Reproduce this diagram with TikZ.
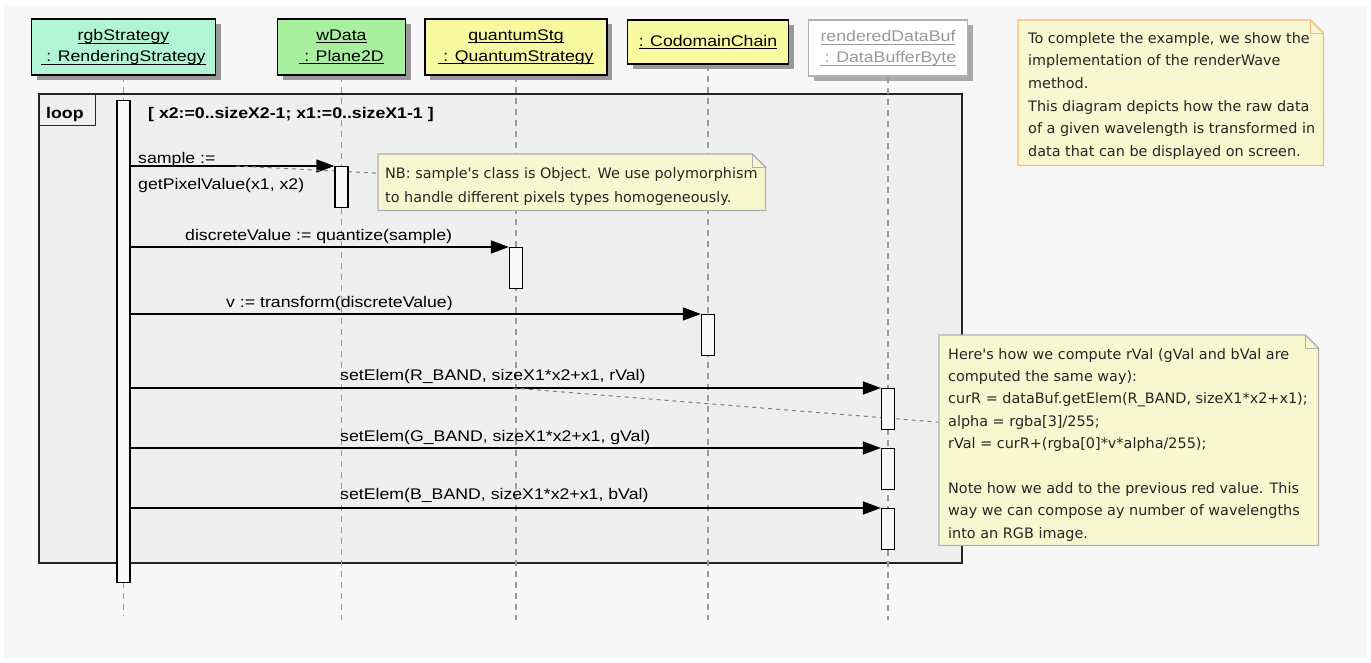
\documentclass[tikz,border=0pt]{standalone}
\usepackage{fontspec}
\setmainfont{Liberation Sans}
\newfontfamily\umlfont[FakeStretch=1.15]{Liberation Sans}
\newfontfamily\notefont{DejaVu Sans}
\usetikzlibrary{arrows.meta,calc}
\definecolor{bgc}{HTML}{F7F7F7}
\definecolor{loopc}{HTML}{EFEFEF}
\definecolor{mint}{HTML}{B2F5D5}
\definecolor{lgreen}{HTML}{A8F0A0}
\definecolor{lyellow}{HTML}{F8F8A0}
\definecolor{notec}{HTML}{F8F8D0}
\definecolor{noteorange}{HTML}{F8B878}
\definecolor{notegray}{HTML}{B0B0B0}
\definecolor{shadowc}{HTML}{999999}
\definecolor{lightshadow}{HTML}{AAAAAA}
\definecolor{lifec}{HTML}{9A9A9A}
\definecolor{greytext}{HTML}{999999}
\definecolor{actfill}{HTML}{F8F8F8}
\newcommand\myul[1]{\setbox0\hbox{#1}\rlap{\rule[-3pt]{\wd0}{0.9pt}}\box0}
\newcommand\notefold[2]{%
  \filldraw[fill=notec, draw=#2, line width=1.3pt] (#1.north west) -- ([xshift=-13pt]#1.north east) -- ([yshift=-13pt]#1.north east) -- (#1.south east) -- (#1.south west) -- cycle;
  \draw[draw=#2, line width=1pt] ([xshift=-13pt]#1.north east) |- ([yshift=-13pt]#1.north east);}
\tikzset{
  umltxt/.style={font=\umlfont\fontsize{15.4}{21}\selectfont, text=black},
  hdrbox/.style={draw=black, line width=1.6pt, inner sep=0pt, align=center, umltxt,
    preaction={fill=shadowc, transform canvas={xshift=5pt,yshift=-5pt}}},
  actbox/.style={draw=black, line width=1.3pt, fill=actfill, minimum width=13pt, inner sep=0pt, anchor=north},
  msg/.style={draw=black, line width=1.6pt, -{Triangle[length=18pt,width=13pt]}},
  lifeline/.style={draw=lifec, line width=1.3pt, dash pattern=on 6pt off 5pt},
  notelink/.style={draw=gray, line width=1pt, dash pattern=on 4pt off 4pt},
  noteshape/.style={anchor=north west, inner sep=0pt},
  notetxt/.style={font=\notefont\fontsize{14.4}{22.4}\selectfont, text=black!85, align=left, anchor=north west, inner sep=0pt},
  msglbl/.style={umltxt, anchor=base west, inner sep=0pt},
}
\begin{document}
\begin{tikzpicture}[x=1pt,y=-1pt]
\useasboundingbox (0,0) rectangle (1371,662);
\fill[white] (0,0) rectangle (1371,662);
\fill[bgc] (4,5) rectangle (1367,658);

% loop fragment
\node[draw=black!85, line width=1.6pt, fill=loopc, anchor=north west, minimum width=923pt, minimum height=469pt, inner sep=0pt] (loop) at (38,93) {};
\node[draw=black!85, line width=1.4pt, anchor=north west, minimum width=57pt, minimum height=32pt, inner sep=0pt] (looptab) at (loop.north west) {};
\node[anchor=base west, inner sep=0pt, font=\umlfont\bfseries\fontsize{15.4}{18}\selectfont] (looplbl) at (46,118) {loop};
\node[anchor=base west, inner sep=0pt, font=\umlfont\bfseries\fontsize{15.4}{18}\selectfont] (guard) at (148,118) {[ x2:=0..sizeX2-1; x1:=0..sizeX1-1 ]};

% headers
\node[hdrbox, fill=mint, minimum width=184pt, minimum height=56pt] (rgb) at (123.5,47) {\myul{rgbStrategy}\\\myul{\ : RenderingStrategy}};
\node[hdrbox, fill=lgreen, minimum width=128pt, minimum height=56pt] (wd) at (341.5,47) {\myul{wData}\\\myul{\ : Plane2D}};
\node[hdrbox, fill=lyellow, minimum width=182pt, minimum height=56pt] (qs) at (516,47) {\myul{quantumStg}\\\myul{\ : QuantumStrategy}};
\node[hdrbox, fill=lyellow, minimum width=161pt, minimum height=44pt] (cc) at (708,42) {\myul{: CodomainChain}};
\node[hdrbox, draw=notegray, text=greytext, fill=white, minimum width=159pt, minimum height=56pt,
  preaction={fill=lightshadow, transform canvas={xshift=5pt,yshift=-5pt}}] (buf) at (888,48) {\myul{renderedDataBuf}\\\myul{\ : DataBufferByte}};

% lifelines
\coordinate (rgbend) at (123.5,615);
\coordinate (wdend) at (341.5,620);
\coordinate (qsend) at (516,620);
\coordinate (ccend) at (708,620);
\coordinate (bufend) at (888,620);
\draw[lifeline] (rgb.south) -- (rgbend);
\draw[lifeline] (wd.south) -- (wdend);
\draw[lifeline] (qs.south) -- (qsend);
\draw[lifeline] (cc.south) -- (ccend);
\draw[lifeline] (buf.south) -- (bufend);

% activations
\node[actbox, minimum height=482pt] (A0) at (123.5,100) {};
\path (341.5,166) node[actbox, minimum height=41pt] (A1) {};
\path (516,247) node[actbox, minimum height=41pt] (A2) {};
\path (708,314) node[actbox, minimum height=41pt] (A3) {};
\path (888,388) node[actbox, minimum height=41pt] (A4) {};
\path (888,448) node[actbox, minimum height=41pt] (A5) {};
\path (888,508) node[actbox, minimum height=41pt] (A6) {};

% messages
\draw[msg] (A0.east |- A1.north) -- (A1.north west);
\draw[msg] (A0.east |- A2.north) -- (A2.north west);
\draw[msg] (A0.east |- A3.north) -- (A3.north west);
\draw[msg] (A0.east |- A4.north) -- (A4.north west);
\draw[msg] (A0.east |- A5.north) -- (A5.north west);
\draw[msg] (A0.east |- A6.north) -- (A6.north west);

\node[msglbl] (m1a) at (138,163) {sample :=};
\node[msglbl] (m1b) at (138,189) {getPixelValue(x1, x2)};
\node[msglbl] (m2) at (185,240) {discreteValue := quantize(sample)};
\node[msglbl] (m3) at (226,307) {v := transform(discreteValue)};
\node[msglbl] (m4) at (340,380) {setElem(R\_BAND, sizeX1*x2+x1, rVal)};
\node[msglbl] (m5) at (340,441) {setElem(G\_BAND, sizeX1*x2+x1, gVal)};
\node[msglbl] (m6) at (340,499) {setElem(B\_BAND, sizeX1*x2+x1, bVal)};

% notes (shapes)
\node[noteshape, minimum width=387pt, minimum height=56pt] (nb) at (378,154) {};
\node[noteshape, minimum width=305pt, minimum height=145pt] (n1) at (1018,20) {};
\node[noteshape, minimum width=379pt, minimum height=210pt] (n2) at (939,335) {};

% note connectors
\coordinate (nbanchor) at (236,166);
\coordinate (n2anchor) at (513,388);
\draw[notelink] (nbanchor) -- ([yshift=9pt]nb.west);
\draw[notelink] (n2anchor) -- ([yshift=18pt]n2.west);

% activations redrawn over the connectors
\node[actbox, minimum height=41pt] at (A1.north) {};
\node[actbox, minimum height=41pt] at (A4.north) {};

\notefold{nb}{notegray}
\notefold{n1}{noteorange}
\notefold{n2}{notegray}

\node[notetxt, font=\notefont\fontsize{14.4}{24}\selectfont] (nbtext) at (385,167) {NB: sample's class is Object. We use polymorphism\\to handle different pixels types homogeneously.};
\node[notetxt, font=\notefont\fontsize{14.4}{22.7}\selectfont] (n1text) at (1028,32) {To complete the example, we show the\\implementation of the renderWave\\method.\\This diagram depicts how the raw data\\of a given wavelength is transformed in\\data that can be displayed on screen.};
\node[notetxt] (n2text) at (948,348) {Here's how we compute rVal (gVal and bVal are\\computed the same way):\\curR = dataBuf.getElem(R\_BAND, sizeX1*x2+x1);\\alpha = rgba[3]/255;\\rVal = curR+(rgba[0]*v*alpha/255);\\[22.4pt]Note how we add to the previous red value. This\\way we can compose ay number of wavelengths\\into an RGB image.};
\end{tikzpicture}
\end{document}
